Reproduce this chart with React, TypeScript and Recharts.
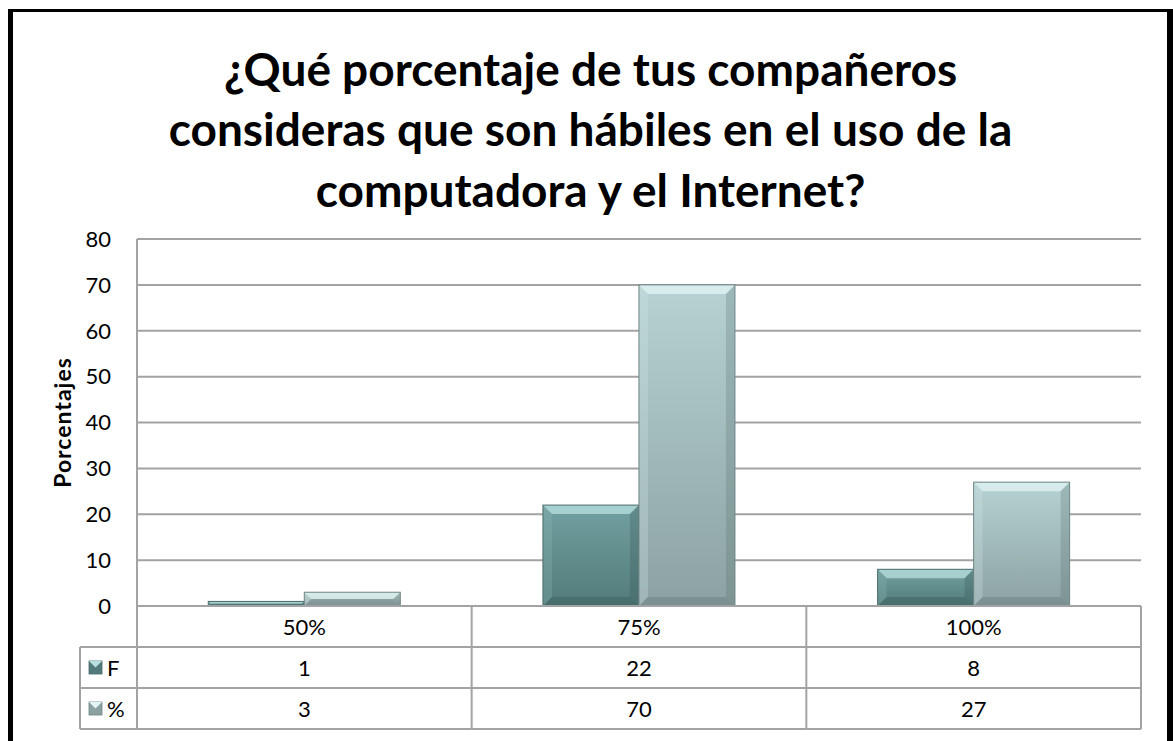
import React from "react";
import { BarChart, Bar, XAxis, YAxis, CartesianGrid } from "recharts";

const categories = ["50%", "75%", "100%"];
const fValues = [1, 22, 8];
const pctValues = [3, 70, 27];
const yTicks = [0, 10, 20, 30, 40, 50, 60, 70, 80];
const seriesNames = ["F", "%"];
const titleLines = [
  "¿Qué porcentaje de tus compañeros",
  "consideras que son hábiles en el uso de la",
  "computadora y el Internet?",
];
const yAxisTitle = "Porcentajes";

const data = categories.map((category, i) => ({ category, F: fValues[i], pct: pctValues[i] }));

const W = 1173;
const H = 741;
const PLOT_LEFT = 137;
const PLOT_RIGHT = 1141;
const PLOT_TOP = 239;
const PLOT_BOTTOM = 606;
const ROW_H = 41;
const LEGEND_W = 57;
const Y_AXIS_W = 100;
const FONT = "Lato, 'Open Sans', sans-serif";
const GRID = "#a3a3a3";

const palettes: Record<string, any> = {
  F: { top: "#72a0a0", bottom: "#537b7b", light: "#b9e0e0", side: "#8ab5b5", dark: "#2f4d4d", edge: "#4b6b6b" },
  pct: { top: "#b6d2d3", bottom: "#8ca1a2", light: "#e3f4f4", side: "#cfe5e5", dark: "#556a6b", edge: "#6e8586" },
};

function makeBevel(key: string) {
  return (props: any) => {
    const { x, y, width: w, height: h, index } = props;
    if (!w || !h || h <= 0) return <g />;
    const p = palettes[key];
    const b = Math.min(9, h / 2, w / 2);
    const id = `grad-${key}-${index}`;
    return (
      <g>
        <defs>
          <linearGradient id={id} x1="0" y1="0" x2="0" y2="1">
            <stop offset="0%" stopColor={p.top} />
            <stop offset="100%" stopColor={p.bottom} />
          </linearGradient>
        </defs>
        <rect x={x} y={y} width={w} height={h} fill={`url(#${id})`} />
        <polygon
          points={`${x},${y} ${x + w},${y} ${x + w - b},${y + b} ${x + b},${y + b}`}
          fill={p.light}
          opacity={0.75}
        />
        <polygon
          points={`${x},${y} ${x + b},${y + b} ${x + b},${y + h - b} ${x},${y + h}`}
          fill={p.side}
          opacity={0.3}
        />
        <polygon
          points={`${x + w},${y} ${x + w},${y + h} ${x + w - b},${y + h - b} ${x + w - b},${y + b}`}
          fill={p.dark}
          opacity={0.25}
        />
        <polygon
          points={`${x},${y + h} ${x + w},${y + h} ${x + w - b},${y + h - b} ${x + b},${y + h - b}`}
          fill={p.dark}
          opacity={0.3}
        />
        <rect x={x} y={y} width={w} height={h} fill="none" stroke={p.edge} strokeWidth={1} />
      </g>
    );
  };
}

function LegendKey({ x, y, k }: { x: number; y: number; k: string }) {
  const p = palettes[k];
  const s = 13;
  return (
    <g>
      <rect x={x} y={y} width={s} height={s} fill={p.bottom} stroke={p.edge} strokeWidth={0.8} />
      <polygon points={`${x},${y} ${x + s},${y} ${x + s / 2},${y + s / 2}`} fill={p.light} />
    </g>
  );
}

function TableTick(props: any) {
  const { x, y, payload, index } = props;
  const band = (PLOT_RIGHT - PLOT_LEFT) / categories.length;
  const left = x - band / 2;
  const right = x + band / 2;
  const i = typeof payload?.index === "number" ? payload.index : index;
  const rows = [fValues, pctValues];
  const txt = { fontFamily: FONT, fontSize: 22, fill: "#000" };
  return (
    <g>
      <line x1={right} y1={y} x2={right} y2={y + ROW_H * 3} stroke={GRID} strokeWidth={2} />
      {[1, 2, 3].map((r) => (
        <line key={r} x1={left} y1={y + ROW_H * r} x2={right} y2={y + ROW_H * r} stroke={GRID} strokeWidth={2} />
      ))}
      <text x={x} y={y + ROW_H / 2} textAnchor="middle" dominantBaseline="central" {...txt}>
        {payload.value}
      </text>
      {rows.map((vals, r) => (
        <text key={r} x={x} y={y + ROW_H * (r + 1.5)} textAnchor="middle" dominantBaseline="central" {...txt}>
          {vals[i]}
        </text>
      ))}
      {i === 0 && (
        <g>
          <line x1={left} y1={y} x2={left} y2={y + ROW_H * 3} stroke={GRID} strokeWidth={2} />
          <line x1={left - LEGEND_W} y1={y + ROW_H} x2={left - LEGEND_W} y2={y + ROW_H * 3} stroke={GRID} strokeWidth={2} />
          {[1, 2, 3].map((r) => (
            <line key={r} x1={left - LEGEND_W} y1={y + ROW_H * r} x2={left} y2={y + ROW_H * r} stroke={GRID} strokeWidth={2} />
          ))}
          {seriesNames.map((name, r) => (
            <g key={name}>
              <LegendKey x={left - 48} y={y + ROW_H * (r + 1.5) - 6.5} k={r === 0 ? "F" : "pct"} />
              <text x={left - 30} y={y + ROW_H * (r + 1.5)} dominantBaseline="central" {...txt}>
                {name}
              </text>
            </g>
          ))}
        </g>
      )}
    </g>
  );
}

function YTitle(props: any) {
  const vb = props.viewBox || {};
  const cx = vb.x + 25;
  const cy = vb.y + vb.height / 2;
  return (
    <text
      x={cx}
      y={cy}
      transform={`rotate(-90 ${cx} ${cy})`}
      textAnchor="middle"
      dominantBaseline="central"
      fontFamily={FONT}
      fontSize={23}
      letterSpacing={1}
      fontWeight="bold"
      fill="#000"
    >
      {yAxisTitle}
    </text>
  );
}

export default function App() {
  return (
    <div style={{ position: "absolute", left: 0, top: 0, width: W, height: H, background: "#fff", overflow: "hidden" }}>
      <div
        style={{
          position: "absolute",
          left: 8,
          top: 9,
          width: W - 8,
          height: H + 20,
          boxSizing: "border-box",
          borderLeft: "5px solid #000",
          borderTop: "3px solid #000",
          borderRight: "6px solid #000",
        }}
      />
      <svg style={{ position: "absolute", left: 0, top: 0 }} width={W} height={230}>
        {titleLines.map((line, i) => (
          <text
            key={i}
            x={590.5}
            y={68 + i * 60.5}
            textAnchor="middle"
            dominantBaseline="central"
            fontFamily={FONT}
            fontWeight="bold"
            fontSize={46}
            fill="#000"
          >
            {line}
          </text>
        ))}
      </svg>
      <div style={{ position: "absolute", left: 0, top: 0 }}>
        <BarChart
          width={W}
          height={H}
          data={data}
          barCategoryGap="21.3%"
          barGap={0}
          margin={{
            top: PLOT_TOP,
            right: W - PLOT_RIGHT,
            left: PLOT_LEFT - Y_AXIS_W,
            bottom: H - PLOT_BOTTOM - ROW_H * 3,
          }}
        >
          <CartesianGrid vertical={false} stroke={GRID} strokeWidth={2} />
          <XAxis
            dataKey="category"
            height={ROW_H * 3}
            tickLine={false}
            tickSize={0}
            tickMargin={0}
            axisLine={{ stroke: GRID, strokeWidth: 2 }}
            tick={<TableTick />}
            interval={0}
          />
          <YAxis
            width={Y_AXIS_W}
            domain={[0, 80]}
            ticks={yTicks}
            interval={0}
            tickLine={false}
            tickSize={0}
            tickMargin={26}
            axisLine={{ stroke: GRID, strokeWidth: 2 }}
            tick={{ fontFamily: FONT, fontSize: 22, fill: "#000" }}
            label={<YTitle />}
          />
          <Bar dataKey="F" name="F" shape={makeBevel("F")} isAnimationActive={false} />
          <Bar dataKey="pct" name="%" shape={makeBevel("pct")} isAnimationActive={false} />
        </BarChart>
      </div>
    </div>
  );
}
